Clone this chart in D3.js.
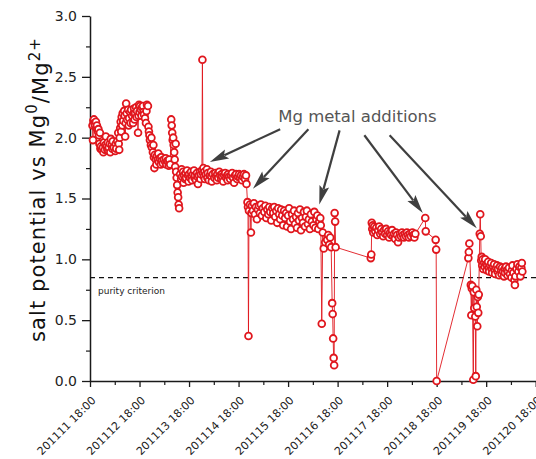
<!DOCTYPE html>
<html>
<head>
<meta charset="utf-8">
<script src="https://cdn.jsdelivr.net/npm/d3@7"></script>
<style>
  html, body { margin: 0; padding: 0; background: #fff; }
  svg { display: block; }
</style>
</head>
<body>
<svg id="chart" width="536" height="459"></svg>
<script>
// Tick labels for the time axis (one per day, at 18:00)
const dateLabels = [
  "201111 18:00", "201112 18:00", "201113 18:00", "201114 18:00", "201115 18:00",
  "201116 18:00", "201117 18:00", "201118 18:00", "201119 18:00", "201120 18:00"
];

// Salt potential readings: [elapsed days since 201111 18:00, potential vs Mg0/Mg2+]
const phaseA = [
  [0.05,2.10],[0.06,1.98],[0.07,2.14],[0.08,2.15],[0.09,2.12],[0.10,2.10],[0.12,2.13],[0.13,2.08],
  [0.14,2.10],[0.16,2.05],[0.17,2.07],[0.18,2.02],[0.19,1.95],[0.20,2.04],[0.21,1.91],[0.22,1.93],
  [0.24,1.90],[0.26,1.92],[0.27,1.88],[0.28,1.96],[0.30,1.90],[0.31,1.94],[0.32,2.01],[0.34,1.93],
  [0.35,1.90],[0.36,1.96],[0.37,1.89],[0.38,1.92],[0.40,1.95],[0.41,1.88],[0.42,1.99],[0.44,1.94],
  [0.45,1.91],[0.46,1.97],[0.48,1.92],[0.51,1.89],[0.52,1.95],[0.53,1.91],[0.55,1.97],[0.57,2.04],
  [0.58,1.95],[0.59,1.90],[0.60,2.00],[0.61,2.08],[0.62,2.13],[0.63,2.05],[0.64,2.17],[0.65,2.10],
  [0.66,2.20],[0.67,2.14],[0.69,2.22],[0.70,2.18],[0.71,2.01],[0.72,2.12],[0.73,2.28],[0.74,2.20],
  [0.75,2.15],[0.77,2.23],[0.78,2.10],[0.79,2.16],[0.81,2.21],[0.82,2.12],[0.83,2.23],[0.85,2.18],
  [0.87,2.12],[0.88,2.20],[0.89,2.24],[0.90,2.15],[0.91,2.20],[0.93,2.25],[0.94,2.17],[0.95,2.22],
  [0.97,2.04],[0.98,2.18],[0.99,2.27],[1.00,2.21],[1.01,2.26],[1.03,2.23],[1.04,2.18],[1.05,2.25],
  [1.07,2.26],[1.08,2.21],[1.09,2.19],[1.11,2.16],[1.13,2.12],[1.14,2.22],[1.15,2.27],[1.17,2.26],
  [1.18,2.09],[1.19,2.05],[1.20,2.02],[1.21,1.98],[1.23,1.94],[1.24,2.00],[1.25,1.92],[1.27,1.88],
  [1.28,1.94],[1.29,1.84],[1.30,1.75],[1.31,1.86],[1.33,1.82],[1.34,1.78],[1.35,1.85],[1.37,1.82],
  [1.38,1.87],[1.39,1.80],[1.41,1.83],[1.43,1.78],[1.44,1.84],[1.45,1.81],[1.47,1.79],[1.49,1.82],
  [1.52,1.80],[1.53,1.83],[1.54,1.78],[1.56,1.81],[1.58,1.80],[1.59,1.77],[1.60,1.82],[1.62,1.78],
  [1.64,2.15],[1.65,2.10],[1.66,2.04],[1.67,1.98],[1.68,2.00],[1.69,1.94],[1.70,1.88],[1.71,1.82],
  [1.72,1.76],[1.73,1.95],[1.74,1.72],[1.75,1.67],[1.76,1.61],[1.77,1.55],[1.78,1.51],[1.79,1.45],
  [1.80,1.42]
];

const phaseB = [
  [1.82,1.70],[1.84,1.66],[1.85,1.74],[1.86,1.68],[1.88,1.72],[1.89,1.63],[1.90,1.69],[1.92,1.66],
  [1.93,1.71],[1.94,1.67],[1.96,1.73],[1.98,1.69],[1.99,1.64],[2.00,1.70],[2.02,1.67],[2.04,1.72],
  [2.05,1.68],[2.06,1.65],[2.08,1.70],[2.10,1.73],[2.11,1.67],[2.12,1.69],[2.14,1.65],[2.16,1.71],
  [2.17,1.68],[2.18,1.62],[2.20,1.69],[2.22,1.72],[2.23,1.66],[2.24,1.70],[2.26,1.73],[2.27,2.64],
  [2.28,1.71],[2.29,1.75],[2.30,1.68],[2.31,1.72],[2.32,1.66],[2.34,1.70],[2.36,1.74],[2.37,1.67],
  [2.38,1.71],[2.40,1.65],[2.42,1.69],[2.44,1.72],[2.45,1.68],[2.46,1.64],[2.48,1.70],[2.51,1.67],
  [2.53,1.71],[2.55,1.68],[2.56,1.65],[2.57,1.70],[2.59,1.67],[2.61,1.72],[2.63,1.69],[2.65,1.66],
  [2.66,1.70],[2.67,1.68],[2.69,1.64],[2.71,1.69],[2.73,1.71],[2.75,1.67],[2.77,1.69],[2.78,1.65],
  [2.79,1.70],[2.81,1.68],[2.83,1.66],[2.85,1.69],[2.87,1.71],[2.89,1.67],[2.91,1.63],[2.93,1.69],
  [2.95,1.70],[2.97,1.66],[2.99,1.68],[3.01,1.70],[3.03,1.67],[3.05,1.69],[3.07,1.65],[3.09,1.68],
  [3.11,1.70],[3.13,1.66],[3.15,1.69],[3.16,1.62]
];

const phaseC = [
  [3.18,1.47],[3.19,1.43],[3.20,0.37],[3.21,1.40],[3.23,1.45],[3.25,1.22],[3.26,1.38],[3.27,1.44],
  [3.29,1.40],[3.31,1.46],[3.33,1.37],[3.35,1.43],[3.37,1.33],[3.39,1.41],[3.41,1.44],[3.43,1.38],
  [3.45,1.45],[3.47,1.36],[3.49,1.42],[3.52,1.39],[3.54,1.44],[3.56,1.34],[3.58,1.41],[3.60,1.37],
  [3.62,1.43],[3.64,1.39],[3.66,1.32],[3.68,1.42],[3.70,1.38],[3.72,1.43],[3.74,1.35],[3.76,1.40],
  [3.78,1.30],[3.80,1.42],[3.82,1.37],[3.84,1.33],[3.86,1.41],[3.88,1.36],[3.90,1.28],[3.92,1.40],
  [3.94,1.34],[3.96,1.38],[3.98,1.27],[4.00,1.36],[4.02,1.42],[4.04,1.31],[4.06,1.25],[4.08,1.37],
  [4.10,1.33],[4.12,1.40],[4.14,1.29],[4.16,1.35],[4.18,1.26],[4.20,1.38],[4.22,1.32],[4.24,1.41],
  [4.26,1.24],[4.28,1.34],[4.30,1.30],[4.32,1.39],[4.34,1.27],[4.36,1.35],[4.38,1.40],[4.40,1.29],
  [4.42,1.33],[4.44,1.25],[4.46,1.37],[4.48,1.31],[4.51,1.28],[4.53,1.39],[4.55,1.26],[4.57,1.33],
  [4.59,1.36],[4.61,1.25],[4.63,1.31],[4.65,1.34],[4.66,1.28],
  [4.68,0.47],[4.70,1.22],[4.72,1.09],[4.75,1.14],[4.79,1.16],[4.81,1.20],[4.83,1.12],[4.85,1.18],
  [4.87,1.10],[4.89,0.64],[4.90,0.55],[4.91,0.35],[4.92,0.19],[4.93,0.13],[4.94,1.38],[4.95,1.31],
  [4.96,1.10]
];

const phaseD = [
  [5.67,1.01],[5.68,1.04],[5.69,1.30],[5.70,1.25],[5.71,1.28],[5.72,1.22],[5.74,1.27],[5.76,1.23],
  [5.78,1.26],[5.80,1.20],[5.82,1.24],[5.84,1.27],[5.86,1.21],[5.88,1.25],[5.90,1.22],[5.92,1.19],
  [5.94,1.24],[5.96,1.21],[5.98,1.25],[6.00,1.20],[6.02,1.23],[6.04,1.18],[6.06,1.22],[6.08,1.20],
  [6.10,1.24],[6.12,1.19],[6.14,1.21],[6.16,1.17],[6.18,1.22],[6.20,1.20],[6.22,1.14],[6.24,1.18],
  [6.26,1.21],[6.28,1.19],[6.30,1.22],[6.32,1.20],[6.34,1.18],[6.36,1.21],[6.38,1.19],[6.40,1.22],
  [6.42,1.20],[6.44,1.18],[6.46,1.21],[6.48,1.19],[6.51,1.22],[6.53,1.20],[6.55,1.18],[6.57,1.21],
  [6.77,1.34],[6.78,1.23],[6.98,1.16],[6.99,1.08],[7.00,0.00]
];

const phaseE = [
  [7.64,1.01],[7.65,1.06],[7.66,1.13],[7.69,0.79],[7.70,0.54],[7.71,0.76],[7.72,0.78],[7.74,0.01],
  [7.75,0.73],[7.76,0.60],[7.78,0.53],[7.79,0.04],[7.80,0.75],[7.81,0.61],[7.82,0.45],[7.83,0.69],
  [7.84,0.56],[7.85,0.71],[7.87,1.21],[7.88,1.37],[7.89,1.19],
  [7.90,0.99],[7.91,1.02],[7.92,0.95],[7.93,1.00],[7.94,0.92],[7.96,0.97],[7.97,0.94],[7.98,1.00],
  [8.00,0.96],[8.01,0.91],[8.02,0.95],[8.04,0.98],[8.05,0.93],[8.06,0.90],[8.08,0.95],[8.10,0.97],
  [8.11,0.92],[8.12,0.89],[8.14,0.94],[8.16,0.96],[8.17,0.91],[8.18,0.88],[8.20,0.93],[8.22,0.95],
  [8.23,0.90],[8.24,0.92],[8.26,0.87],[8.28,0.94],[8.30,0.91],[8.31,0.88],[8.32,0.93],[8.34,0.90],
  [8.36,0.86],[8.37,0.92],[8.38,0.89],[8.40,0.94],[8.42,0.91],[8.43,0.87],[8.44,0.90],[8.46,0.93],
  [8.48,0.88],[8.51,0.85],[8.52,0.91],[8.53,0.95],[8.55,0.89],[8.57,0.83],[8.58,0.79],[8.59,0.86],
  [8.61,0.92],[8.63,0.96],[8.65,0.90],[8.67,0.94],[8.69,0.86],[8.71,0.93],[8.72,0.97],[8.73,0.90]
];

// Threshold for an acceptably pure salt
const purityCriterion = 0.85;

// Mg metal additions: arrow tip (readings it points at) and tail near the label, in [days, potential]
const additionArrows = [
  { tail: [3.84, 2.07], tip: [2.42, 1.80] },
  { tail: [4.41, 2.07], tip: [3.29, 1.58] },
  { tail: [5.04, 2.06], tip: [4.63, 1.45] },
  { tail: [5.54, 2.02], tip: [6.72, 1.38] },
  { tail: [6.05, 2.02], tip: [7.81, 1.255] }
];
const additionLabel = { text: "Mg metal additions", at: [5.40, 2.13] };

const readings = [...phaseA, ...phaseB, ...phaseC, ...phaseD, ...phaseE];

const svg = d3.select("#chart");
const FONT = "'DejaVu Sans', sans-serif";

const x = d3.scaleLinear().domain([0, 9]).range([90, 535.7]);
const y = d3.scaleLinear().domain([0, 3]).range([381, 16]);

const axisColor = "#1a1a1a";

// ---- Y axis ----
const yMajor = d3.range(0, 3.01, 0.5);
const yMinor = d3.range(0.25, 3, 0.5);
const yAxis = svg.append("g").attr("transform", `translate(${x(0)},0)`)
  .call(d3.axisLeft(y).tickValues(yMajor).tickFormat(d3.format(".1f"))
    .tickSize(8).tickPadding(5).tickSizeOuter(0));
yAxis.select(".domain").attr("stroke", axisColor).attr("stroke-width", 1.5);
yAxis.selectAll(".tick line").attr("stroke", axisColor).attr("stroke-width", 1.3);
yAxis.selectAll(".tick text").attr("font-family", FONT).attr("font-size", 14).attr("fill", "#222");
svg.append("g").attr("transform", `translate(${x(0)},0)`)
  .call(d3.axisLeft(y).tickValues(yMinor).tickFormat("").tickSize(4).tickSizeOuter(0))
  .call(g => g.select(".domain").remove())
  .selectAll(".tick line").attr("stroke", axisColor).attr("stroke-width", 1.2);

// ---- X axis ----
const xMajor = d3.range(0, 10);
const xMinor = d3.range(0.5, 9, 1);
const xAxis = svg.append("g").attr("transform", `translate(0,${y(0)})`)
  .call(d3.axisBottom(x).tickValues(xMajor).tickFormat((d, i) => dateLabels[i])
    .tickSize(6).tickSizeOuter(0));
xAxis.select(".domain").attr("stroke", axisColor).attr("stroke-width", 1.5);
xAxis.selectAll(".tick line").attr("stroke", axisColor).attr("stroke-width", 1.3);
xAxis.selectAll(".tick text")
  .attr("font-family", FONT).attr("font-size", 11).attr("fill", "#222")
  .attr("text-anchor", "end")
  .attr("x", -10).attr("y", 18.4).attr("dy", 0)
  .attr("transform", "rotate(-45)");
svg.append("g").attr("transform", `translate(0,${y(0)})`)
  .call(d3.axisBottom(x).tickValues(xMinor).tickFormat("").tickSize(4).tickSizeOuter(0))
  .call(g => g.select(".domain").remove())
  .selectAll(".tick line").attr("stroke", axisColor).attr("stroke-width", 1.2);

// ---- Y axis title ----
const title = svg.append("text")
  .attr("transform", `translate(45,${(y(0) + y(3)) / 2 - 9}) rotate(-90)`)
  .attr("text-anchor", "middle")
  .attr("font-family", FONT).attr("font-size", 21).attr("fill", "#111")
  .attr("letter-spacing", 1.1);
title.append("tspan").text("salt potential vs Mg");
title.append("tspan").attr("dy", "-0.55em").attr("font-size", 15).text("0");
title.append("tspan").attr("dy", "0.55em").text("/Mg");
title.append("tspan").attr("dy", "-0.55em").attr("font-size", 15).text("2+");

// ---- Purity criterion ----
svg.append("line")
  .attr("x1", x(0)).attr("x2", 536)
  .attr("y1", y(purityCriterion)).attr("y2", y(purityCriterion))
  .attr("stroke", "#111").attr("stroke-width", 1.2).attr("stroke-dasharray", "5,4");
svg.append("text")
  .attr("x", x(0) + 8).attr("y", y(purityCriterion) + 16)
  .attr("font-family", FONT).attr("font-size", 9).attr("fill", "#222")
  .text("purity criterion");

// ---- Readings ----
const red = "#e0161d";
svg.append("path")
  .datum(readings)
  .attr("fill", "none").attr("stroke", red).attr("stroke-width", 1).attr("stroke-opacity", 0.9)
  .attr("d", d3.line().x(d => x(d[0])).y(d => y(d[1])));

svg.append("g").selectAll("circle")
  .data(readings)
  .join("circle")
  .attr("cx", d => x(d[0])).attr("cy", d => y(d[1]))
  .attr("r", 3.4)
  .attr("fill", "#fff").attr("stroke", red).attr("stroke-width", 1.8);

// ---- Mg addition annotations ----
const arrowColor = "#3f3f3f";
const headLen = 19, headHalf = 5;
const arrows = svg.append("g");
additionArrows.forEach(a => {
  const x0 = x(a.tail[0]), y0 = y(a.tail[1]);
  const x1 = x(a.tip[0]), y1 = y(a.tip[1]);
  const ang = Math.atan2(y1 - y0, x1 - x0);
  const ux = Math.cos(ang), uy = Math.sin(ang);
  const bx = x1 - ux * headLen, by = y1 - uy * headLen;
  arrows.append("line")
    .attr("x1", x0).attr("y1", y0).attr("x2", bx + ux * 3).attr("y2", by + uy * 3)
    .attr("stroke", arrowColor).attr("stroke-width", 2.2);
  const notch = [x1 - ux * headLen * 0.82, y1 - uy * headLen * 0.82];
  arrows.append("path")
    .attr("d", `M${x1},${y1} L${bx - uy * headHalf},${by + ux * headHalf} L${notch[0]},${notch[1]} L${bx + uy * headHalf},${by - ux * headHalf} Z`)
    .attr("fill", arrowColor);
});
svg.append("text")
  .attr("x", x(additionLabel.at[0])).attr("y", y(additionLabel.at[1]))
  .attr("text-anchor", "middle")
  .attr("font-family", FONT).attr("font-size", 16.5).attr("fill", "#555")
  .text(additionLabel.text);
</script>
</body>
</html>
